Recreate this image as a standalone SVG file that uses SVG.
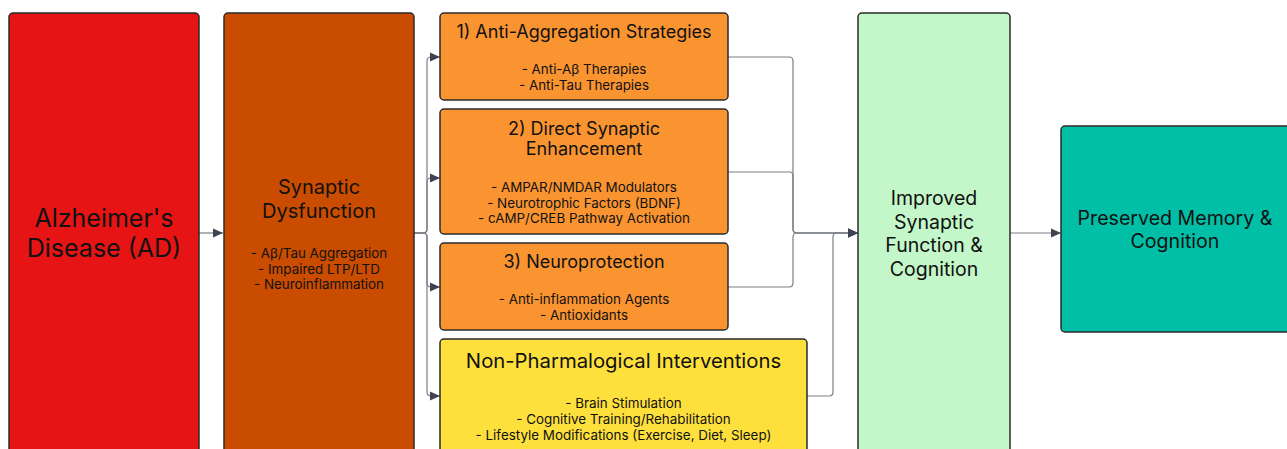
<svg xmlns="http://www.w3.org/2000/svg" width="1287" height="449" viewBox="0 0 1287 449">
<style>
.box{stroke:#2a2a2a;stroke-width:1.5}
.t{font-family:Inter,"Noto Sans","Liberation Sans",sans-serif;fill:#111;text-anchor:middle}
.b{font-size:13.4px}
.h{font-size:18px}
.conn{fill:none;stroke:#7a7e86;stroke-width:1.2}
</style>
<defs>
<marker id="ah" markerWidth="10" markerHeight="10" refX="10" refY="5" orient="auto" markerUnits="userSpaceOnUse">
<path d="M0,0.5 L10,5 L0,9.5 Z" fill="#3d4350"/>
</marker>
</defs>
<rect width="1287" height="449" fill="#ffffff"/>
<g id="connectors">
<path class="conn" d="M199 233 H223" marker-end="url(#ah)"/>
<path class="conn" d="M414 233 H423 Q427 233 427 229 V61 Q427 57 431 57 H440" marker-end="url(#ah)"/>
<path class="conn" d="M414 233 H423 Q427 233 427 229 V182 Q427 178 431 178 H440" marker-end="url(#ah)"/>
<path class="conn" d="M414 233 H423 Q427 233 427 237 V283 Q427 287 431 287 H440" marker-end="url(#ah)"/>
<path class="conn" d="M414 233 H423 Q427 233 427 237 V392 Q427 396 431 396 H440" marker-end="url(#ah)"/>
<path class="conn" d="M728 57 H789 Q793 57 793 61 V229 Q793 233 797 233 H858" marker-end="url(#ah)"/>
<path class="conn" d="M728 172 H789 Q793 172 793 176 V229 Q793 233 797 233 H858" marker-end="url(#ah)"/>
<path class="conn" d="M728 287 H789 Q793 287 793 283 V237 Q793 233 797 233 H858" marker-end="url(#ah)"/>
<path class="conn" d="M807 396 H829 Q833 396 833 392 V237 Q833 233 837 233 H858" marker-end="url(#ah)"/>
<path class="conn" d="M1010 233 H1061" marker-end="url(#ah)"/>
</g>
<g id="ad">
<rect class="box" x="9" y="13" width="190" height="450" rx="4" fill="#e61414"/>
<text class="t" style="font-size:25px"><tspan x="104" y="227">Alzheimer's</tspan><tspan x="104" y="257">Disease (AD)</tspan></text>
</g>
<g id="sd">
<rect class="box" x="224" y="13" width="190" height="450" rx="4" fill="#c94c00"/>
<text class="t" style="font-size:20px"><tspan x="319" y="194">Synaptic</tspan><tspan x="319" y="218">Dysfunction</tspan></text>
<text class="t b"><tspan x="319" y="258">- Aβ/Tau Aggregation</tspan><tspan x="319" y="273.5">- Impaired LTP/LTD</tspan><tspan x="319" y="289">- Neuroinflammation</tspan></text>
</g>
<g id="s1">
<rect class="box" x="440" y="13" width="288" height="87" rx="4" fill="#f99431"/>
<text class="t h" x="584" y="38">1) Anti-Aggregation Strategies</text>
<text class="t b"><tspan x="584" y="74">- Anti-Aβ Therapies</tspan><tspan x="584" y="89.5">- Anti-Tau Therapies</tspan></text>
</g>
<g id="s2">
<rect class="box" x="440" y="109" width="288" height="125" rx="4" fill="#f99431"/>
<text class="t h"><tspan x="584" y="135">2) Direct Synaptic</tspan><tspan x="584" y="155">Enhancement</tspan></text>
<text class="t b"><tspan x="584" y="192">- AMPAR/NMDAR Modulators</tspan><tspan x="584" y="207.5">- Neurotrophic Factors (BDNF)</tspan><tspan x="584" y="223">- cAMP/CREB Pathway Activation</tspan></text>
</g>
<g id="s3">
<rect class="box" x="440" y="243" width="288" height="87" rx="4" fill="#f99431"/>
<text class="t h" x="584" y="268">3) Neuroprotection</text>
<text class="t b"><tspan x="584" y="304">- Anti-inflammation Agents</tspan><tspan x="584" y="320">- Antioxidants</tspan></text>
</g>
<g id="np">
<rect class="box" x="440" y="339" width="367" height="130" rx="4" fill="#fee03d"/>
<text class="t" x="623.5" y="368" style="font-size:20.3px">Non-Pharmalogical Interventions</text>
<text class="t b"><tspan x="623.5" y="408">- Brain Stimulation</tspan><tspan x="623.5" y="424">- Cognitive Training/Rehabilitation</tspan><tspan x="623.5" y="439.5">- Lifestyle Modifications (Exercise, Diet, Sleep)</tspan></text>
</g>
<g id="improved">
<rect class="box" x="858" y="13" width="152" height="450" rx="4" fill="#c3f6c8"/>
<text class="t" style="font-size:19.5px"><tspan x="934" y="205">Improved</tspan><tspan x="934" y="228.5">Synaptic</tspan><tspan x="934" y="252">Function &amp;</tspan><tspan x="934" y="275.5">Cognition</tspan></text>
</g>
<g id="preserved">
<rect class="box" x="1061" y="126" width="240" height="206" rx="4" fill="#00bfa6"/>
<text class="t" style="font-size:19.6px"><tspan x="1175" y="225">Preserved Memory &amp;</tspan><tspan x="1175" y="248">Cognition</tspan></text>
</g>
</svg>
